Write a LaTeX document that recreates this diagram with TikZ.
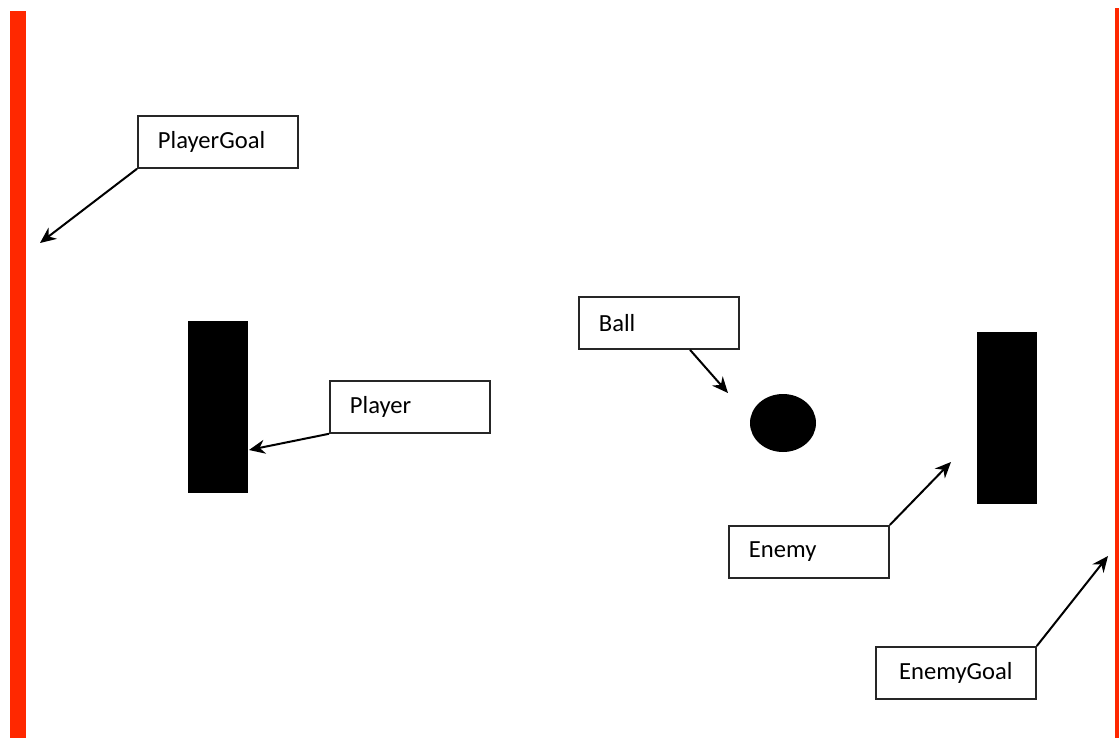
\documentclass[tikz,border=0pt]{standalone}
\usepackage{fontspec}
\setmainfont{Carlito}
\usepackage{tikz}
\usetikzlibrary{
    arrows.meta,
    positioning,
    shapes.geometric
}
\definecolor{goalred}{RGB}{255,40,0}

\tikzset{
    tag/.style={draw=black!85, line width=0.9pt, anchor=north west,
        minimum height=26pt, text width=60pt, inner xsep=10pt,
        align=left, font=\fontsize{12.3}{14}\selectfont},
    paddle/.style={fill=black, draw=none, anchor=north west,
        minimum width=30pt, minimum height=86pt, inner sep=0pt},
    pointer/.style={line width=1pt, -{Stealth[length=8pt,width=7pt]}}
}

\begin{document}
\begin{tikzpicture}[x=0.5pt,y=-0.5pt]

\useasboundingbox (0,0) rectangle (1119,738);

% Goals
\fill[goalred] (10,11) rectangle (26,738);
\fill[goalred] (1115,8) rectangle (1119,738);

% Paddles and ball
\node[paddle] (player) at (188,321) {};
\node[paddle] (enemy) at (977,332) {};
\node[fill=black, ellipse, minimum width=33pt, minimum height=29pt,
      inner sep=0pt] (ball) at (783,423) {};

% Labels
\node[tag] (playergoalbox) at (137,115) {PlayerGoal};
\node[tag] (playerbox) at (329,380) {Player};
\node[tag] (ballbox) at (578,296) {Ball};
\node[tag] (enemybox) at (728,525) {Enemy};
\node[tag, align=center] (enemygoalbox) at (875,646) {EnemyGoal};

% Arrow ends
\coordinate (pgoal) at (40,243);
\coordinate (ppad) at (249,450);
\coordinate (bpt) at (728,393);
\coordinate (epad) at (951,462);
\coordinate (egoal) at (1108,556);

\draw[pointer] (playergoalbox.south west) -- (pgoal);
\draw[pointer] (playerbox.south west) -- (ppad);
\draw[pointer] ([xshift=56pt]ballbox.south west) -- (bpt);
\draw[pointer] (enemybox.north east) -- (epad);
\draw[pointer] (enemygoalbox.north east) -- (egoal);

\end{tikzpicture}
\end{document}
